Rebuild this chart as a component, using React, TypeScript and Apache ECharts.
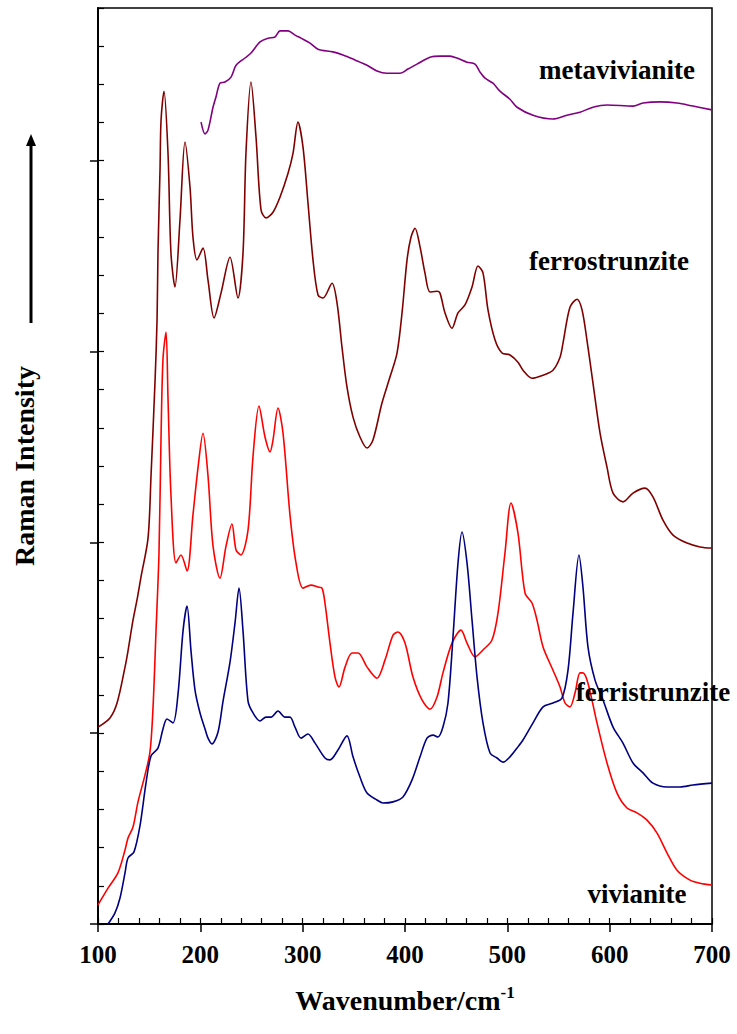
import React, { useEffect, useRef } from "react";
import * as echarts from "echarts";

// Raman spectra, [wavenumber (cm-1), offset intensity (arb. units)]
const metavivianite: [number, number][] = [
  [200.7, 21.01], [204.6, 20.7], [207.5, 20.8], [212.4, 21.4], [215.3, 21.67], [219.2, 22.03],
  [224.1, 22.06], [230.0, 22.19], [234.9, 22.5], [243.6, 22.69], [249.5, 22.82], [258.3, 23.11],
  [266.1, 23.21], [273.0, 23.24], [277.9, 23.4], [285.7, 23.4], [292.5, 23.29], [298.4, 23.21],
  [307.2, 23.08], [315.0, 22.92], [329.6, 22.85], [339.4, 22.77], [351.1, 22.64], [362.9, 22.5],
  [372.6, 22.35], [382.4, 22.29], [395.1, 22.29], [402.9, 22.4], [411.7, 22.53], [424.4, 22.71],
  [434.2, 22.74], [444.0, 22.74], [450.8, 22.69], [460.6, 22.58], [468.4, 22.53], [473.3, 22.32],
  [478.2, 22.16], [486.0, 22.03], [492.8, 21.82], [502.6, 21.61], [509.5, 21.4], [525.1, 21.19],
  [544.6, 21.09], [558.3, 21.19], [571.0, 21.27], [583.7, 21.4], [597.4, 21.46], [622.8, 21.43],
  [632.6, 21.51], [649.2, 21.54], [665.8, 21.51], [681.4, 21.43], [700.0, 21.33],
];

const ferrostrunzite: [number, number][] = [
  [100.0, 5.16], [111.7, 5.4], [118.6, 5.79], [126.4, 6.73], [129.3, 7.15], [134.2, 7.96],
  [138.1, 8.49], [142.0, 9.09], [148.9, 10.11], [151.8, 11.74], [155.7, 14.2], [157.7, 15.82],
  [158.6, 17.58], [160.6, 19.75], [161.6, 21.06], [164.5, 21.82], [168.4, 20.2], [171.3, 17.58],
  [175.2, 16.69], [180.1, 18.44], [185.0, 20.49], [189.9, 19.31], [192.8, 18.0], [196.7, 17.4],
  [202.6, 17.71], [207.5, 16.87], [213.4, 15.88], [220.2, 16.53], [229.0, 17.47], [236.8, 16.4],
  [241.7, 17.58], [244.6, 20.2], [249.5, 22.06], [254.4, 20.62], [259.3, 18.71], [264.2, 18.5],
  [271.0, 18.65], [277.9, 19.05], [285.7, 19.67], [290.6, 20.2], [295.4, 21.01], [300.3, 20.36],
  [305.2, 18.89], [310.1, 17.4], [315.0, 16.48], [319.9, 16.4], [328.7, 16.79], [333.6, 16.27],
  [338.4, 15.12], [343.3, 14.07], [349.2, 13.28], [356.0, 12.76], [362.9, 12.47], [368.7, 12.68],
  [377.5, 13.65], [385.3, 14.33], [392.2, 14.96], [397.1, 16.01], [402.0, 17.4], [405.9, 18.0],
  [409.8, 18.23], [414.7, 17.74], [419.5, 17.06], [424.4, 16.56], [431.3, 16.58], [434.2, 16.53],
  [439.1, 16.01], [445.9, 15.61], [451.8, 16.01], [458.6, 16.22], [465.5, 16.69], [471.3, 17.24],
  [476.2, 17.06], [481.1, 16.09], [488.0, 15.3], [494.8, 14.96], [502.6, 14.91], [510.4, 14.72],
  [515.3, 14.51], [524.1, 14.3], [534.9, 14.38], [544.6, 14.51], [551.5, 14.85], [554.4, 15.22],
  [561.2, 16.16], [568.1, 16.37], [573.0, 16.09], [577.8, 15.3], [583.7, 14.17], [590.6, 12.86],
  [597.4, 11.97], [603.3, 11.29], [613.0, 11.06], [622.8, 11.29], [634.5, 11.42], [642.3, 11.19],
  [652.1, 10.58], [661.9, 10.19], [675.6, 9.98], [688.3, 9.88], [700.0, 9.85],
];

const ferristrunzite: [number, number][] = [
  [100.0, 0.5], [109.8, 0.94], [119.5, 1.34], [126.4, 1.94], [129.3, 2.25], [134.2, 2.54],
  [139.1, 3.2], [145.9, 3.9], [150.8, 4.51], [153.7, 5.63], [156.7, 7.68], [159.6, 9.72],
  [161.6, 12.76], [163.5, 14.8], [166.5, 15.51], [168.4, 13.78], [171.3, 11.24], [176.2, 9.46],
  [181.1, 9.67], [187.0, 9.25], [192.8, 10.72], [197.7, 11.95], [202.6, 12.86], [207.5, 11.74],
  [212.4, 9.9], [219.2, 9.06], [225.1, 9.9], [230.9, 10.48], [234.9, 9.8], [239.7, 9.67],
  [246.6, 10.32], [251.5, 12.26], [257.3, 13.57], [263.2, 12.76], [268.1, 12.37], [271.0, 12.68],
  [275.9, 13.52], [280.8, 12.86], [287.6, 10.72], [293.5, 9.46], [300.3, 8.8], [308.1, 8.88],
  [315.0, 8.83], [318.9, 8.8], [321.8, 8.41], [326.7, 7.36], [331.6, 6.47], [335.5, 6.21],
  [341.4, 6.73], [348.2, 7.1], [354.1, 7.1], [362.9, 6.73], [372.6, 6.44], [380.5, 6.92],
  [388.3, 7.57], [393.2, 7.65], [400.0, 7.36], [407.8, 6.47], [416.6, 5.87], [424.4, 5.63],
  [431.3, 5.95], [437.1, 6.58], [445.9, 7.36], [454.7, 7.7], [460.6, 7.36], [468.4, 7.0],
  [476.2, 7.18], [485.0, 7.44], [490.9, 8.15], [497.7, 9.72], [503.6, 11.03], [510.4, 10.24],
  [517.3, 8.67], [524.1, 8.41], [529.0, 7.96], [534.9, 7.26], [544.6, 6.65], [551.5, 6.21],
  [556.4, 5.79], [561.2, 5.69], [566.1, 6.05], [571.0, 6.58], [573.9, 6.58], [578.8, 6.31],
  [587.6, 5.27], [597.4, 4.22], [607.2, 3.43], [616.9, 3.04], [626.7, 2.91], [636.5, 2.72],
  [646.3, 2.38], [656.1, 1.86], [665.8, 1.41], [678.5, 1.15], [688.3, 1.07], [700.0, 1.02],
];

const vivianite: [number, number][] = [
  [109.8, 0.0], [116.6, 0.29], [121.5, 0.68], [126.4, 1.34], [129.3, 1.73], [135.2, 1.89],
  [141.0, 2.57], [146.9, 3.69], [151.8, 4.4], [158.6, 4.61], [163.5, 5.11], [167.4, 5.37],
  [173.3, 5.27], [178.2, 6.03], [183.1, 7.68], [187.0, 8.33], [190.9, 7.15], [194.8, 6.13],
  [199.7, 5.53], [204.6, 5.11], [207.5, 4.87], [211.4, 4.72], [217.3, 5.03], [222.2, 5.84],
  [229.0, 6.86], [233.9, 7.89], [237.8, 8.8], [241.7, 7.68], [246.6, 5.84], [251.5, 5.53],
  [258.3, 5.32], [264.2, 5.42], [269.1, 5.42], [275.9, 5.58], [282.7, 5.42], [287.6, 5.42],
  [292.5, 5.16], [298.4, 4.87], [305.2, 4.98], [312.1, 4.74], [321.8, 4.35], [326.7, 4.3],
  [334.5, 4.56], [343.3, 4.93], [349.2, 4.38], [356.0, 3.85], [362.9, 3.43], [372.6, 3.25],
  [378.5, 3.17], [388.3, 3.2], [398.0, 3.33], [406.8, 3.77], [414.7, 4.38], [421.5, 4.87],
  [427.4, 4.95], [432.2, 4.9], [437.1, 5.16], [442.0, 5.79], [446.9, 7.52], [451.8, 9.46],
  [455.7, 10.27], [460.6, 9.46], [465.5, 7.96], [470.4, 6.47], [476.2, 5.27], [483.1, 4.48],
  [489.9, 4.35], [495.8, 4.24], [502.6, 4.38], [509.5, 4.61], [515.3, 4.82], [525.1, 5.27],
  [534.9, 5.69], [544.6, 5.79], [553.4, 5.92], [559.3, 6.65], [564.2, 8.15], [570.0, 9.67],
  [573.9, 8.83], [578.8, 7.26], [585.7, 6.39], [593.5, 5.87], [603.3, 5.16], [613.0, 4.74],
  [622.8, 4.22], [632.6, 3.96], [642.3, 3.69], [656.1, 3.59], [668.8, 3.59], [681.4, 3.64],
  [700.0, 3.69],
];

const seriesNames = ["metavivianite", "ferrostrunzite", "ferristrunzite", "vivianite"];
const seriesColors = ["#800080", "#800000", "#FF0000", "#000080"];
const xMajorTicks = [100, 200, 300, 400, 500, 600, 700];
const yMajorTicks = [0, 5, 10, 15, 20];

const FONT = '"Liberation Serif", "Times New Roman", serif';

export default function App() {
  const ref = useRef<HTMLDivElement>(null);
  useEffect(() => {
    document.body.style.margin = "0";
    const chart = echarts.init(ref.current!, null, { renderer: "svg" });
    const datasets = [metavivianite, ferrostrunzite, ferristrunzite, vivianite];
    const labelPos = [
      [617, 70],
      [609, 261],
      [653, 692],
      [637, 894],
    ];
    chart.setOption({
      animation: false,
      backgroundColor: "#fff",
      grid: {
        left: 98,
        top: 8,
        right: 25,
        bottom: 110,
        show: true,
        borderColor: "#000",
        borderWidth: 1.5,
      },
      xAxis: [
        {
          type: "value",
          min: 100,
          max: 700,
          interval: 20,
          position: "bottom",
          axisLine: { show: true, lineStyle: { color: "#000", width: 2 } },
          axisTick: { show: true, inside: true, length: 6, lineStyle: { color: "#000", width: 1.2 } },
          axisLabel: { show: false },
          splitLine: { show: false },
        },
        {
          type: "value",
          min: 100,
          max: 700,
          interval: 100,
          position: "bottom",
          axisLine: { show: false },
          axisTick: { show: true, length: 8, customValues: xMajorTicks, lineStyle: { color: "#000", width: 1.5 } },
          axisLabel: {
            show: true,
            customValues: xMajorTicks,
            margin: 18,
            color: "#000",
            fontFamily: FONT,
            fontWeight: "bold",
            fontSize: 25,
          },
          splitLine: { show: false },
          name: "{a|Wavenumber/cm}{b|-1}",
          nameLocation: "middle",
          nameGap: 60,
          nameTextStyle: {
            rich: {
              a: { fontFamily: FONT, fontWeight: "bold", fontSize: 28, color: "#000", lineHeight: 32 },
              b: { fontFamily: FONT, fontWeight: "bold", fontSize: 17, color: "#000", lineHeight: 17, verticalAlign: "top" },
            },
          },
        },
      ],
      yAxis: [
        {
          type: "value",
          min: 0,
          max: 24,
          interval: 1,
          position: "left",
          axisLine: { show: true, lineStyle: { color: "#000", width: 2 } },
          axisTick: { show: true, inside: true, length: 6, lineStyle: { color: "#000", width: 1.2 } },
          axisLabel: { show: false },
          splitLine: { show: false },
          name: "Raman Intensity",
          nameLocation: "middle",
          nameGap: 60,
          nameTextStyle: { fontFamily: FONT, fontWeight: "bold", fontSize: 28, color: "#000" },
        },
        {
          type: "value",
          min: 0,
          max: 24,
          interval: 5,
          position: "left",
          axisLine: { show: false },
          axisTick: { show: true, length: 8, customValues: yMajorTicks, lineStyle: { color: "#000", width: 1.5 } },
          axisLabel: { show: false },
          splitLine: { show: false },
        },
      ],
      series: datasets.map((d, i) => ({
        name: seriesNames[i],
        type: "line",
        xAxisIndex: 0,
        yAxisIndex: 0,
        data: d,
        showSymbol: false,
        symbol: "none",
        smooth: 0.3,
        lineStyle: { color: seriesColors[i], width: 1.6 },
        z: 3,
      })),
      graphic: [
        {
          type: "line",
          z: 100,
          shape: { x1: 31, y1: 323, x2: 31, y2: 143 },
          style: { stroke: "#000", lineWidth: 3 },
        },
        {
          type: "polygon",
          z: 100,
          shape: { points: [[31, 134], [26, 146], [36, 146]] },
          style: { fill: "#000" },
        },
        ...seriesNames.map((n, i) => ({
          type: "text",
          z: 100,
          x: labelPos[i][0],
          y: labelPos[i][1],
          style: {
            text: n,
            fontFamily: FONT,
            fontWeight: "bold",
            fontSize: 27,
            fill: "#000",
            align: "center",
            verticalAlign: "middle",
          },
        })),
      ],
    });
    return () => chart.dispose();
  }, []);
  return <div ref={ref} style={{ width: 737, height: 1034 }} />;
}
